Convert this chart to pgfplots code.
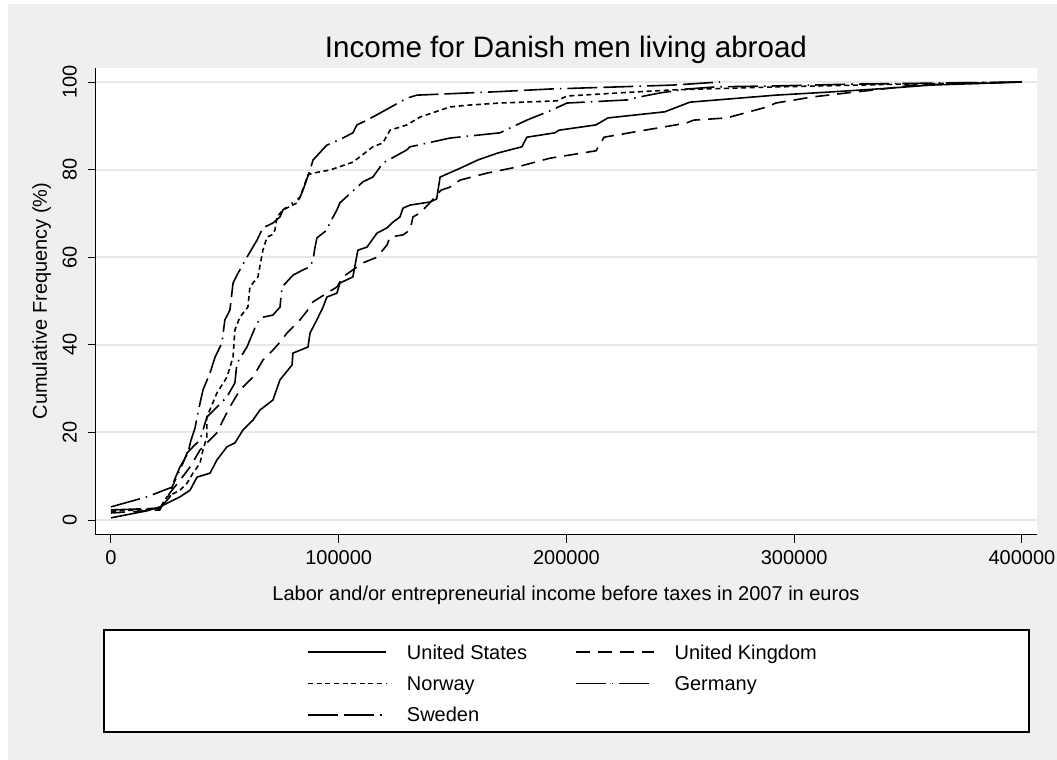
\documentclass[border=0pt]{standalone}
\usepackage{fontspec}
\setmainfont{Liberation Sans}
\usepackage{pgfplots}
\pgfplotsset{compat=1.18}
\definecolor{bg}{RGB}{239,239,239}
\definecolor{gridc}{RGB}{232,232,232}
\begin{document}
\begin{tikzpicture}[x=0.5pt,y=0.5pt]
\useasboundingbox (0,0) rectangle (1057,760);
\fill[white] (0,0) rectangle (1057,760);
\fill[bg] (8,0) rectangle (1057,756);
\draw[fill=white, line width=0.6pt] (104,28) rectangle (1029,130);
\node[anchor=base, font=\fontsize{14.8}{17}\selectfont] at (566,702) {Income for Danish men living abroad};
\node[anchor=base, font=\fontsize{10}{12}\selectfont] at (566,159) {Labor and/or entrepreneurial income before taxes in 2007 in euros};
\node[anchor=base, rotate=90, font=\fontsize{10}{12}\selectfont] at (47,459) {Cumulative Frequency (\%)};
\begin{axis}[
  at={(48pt,112.5pt)}, anchor=south west, scale only axis,
  width=470.5pt, height=233.5pt,
  xmin=-6586, xmax=406600, ymin=-3.42, ymax=103.2,
  scaled x ticks=false, scaled y ticks=false,
  axis lines*=left,
  axis line style={line width=0.5pt, black},
  axis background/.style={fill=white},
  tick align=outside, major tick length=4pt,
  tick style={black, line width=0.5pt},
  xtick={0,100000,200000,300000,400000},
  xticklabels={0,100000,200000,300000,400000},
  ytick={0,20,40,60,80,100},
  yticklabels={0,20,40,60,80,100},
  yticklabel style={rotate=90, anchor=south},
  yticklabel shift=2pt,
  ticklabel style={font=\fontsize{10}{12}\selectfont},
  ymajorgrids, grid style={gridc, line width=1pt},
  legend columns=2,
  legend cell align=left,
  legend style={draw=none, fill=none, at={(0.2242,-0.229)}, anchor=north west,
    inner sep=0pt, row sep=5.8pt, /tikz/column sep=10pt,
    font=\fontsize{10}{12}\selectfont, nodes={inner sep=0pt}},
  legend image code/.code={\draw[black, line width=0.8pt, #1] (0pt,0pt) -- (39pt,0pt);},
  every axis plot/.append style={black, line width=0.8pt, line join=round},
]
% United States
\addplot[solid] coordinates {
(0,0.5) (15800,2.1) (21500,3.0) (30300,5.3) (34700,6.8) (37800,9.8) (43500,10.7)
(46500,13.7) (50900,16.7) (54400,17.6) (57900,20.5) (62300,22.8) (65400,25.1)
(71100,27.4) (74200,32.0) (79500,35.4) (79900,38.1) (86500,39.5) (87400,42.7)
(90400,45.7) (93100,48.6) (94800,50.9) (99200,51.8) (100500,54.1) (106200,55.5)
(108400,61.6) (112400,62.3) (116800,65.5) (121200,66.7) (123800,68.0) (126900,69.2)
(128200,71.2) (131300,71.9) (140000,72.6) (143000,73.3) (144500,78.3) (153700,80.4)
(161100,82.2) (169900,83.8) (180400,85.2) (182600,87.4) (194900,88.4) (196700,89.0)
(212900,90.2) (218200,91.8) (243200,93.2) (254200,95.4) (291900,97.0) (315200,97.7)
(342000,98.6) (360000,99.3) (400000,100)
};
\addlegendentry{\makebox[74pt][l]{United States\strut}}
% United Kingdom
\addplot[dash pattern=on 7pt off 4pt] coordinates {
(0,1.6) (21500,2.3) (22800,3.9) (25900,6.2) (30300,9.1) (34700,12.1) (39100,16.0)
(42100,17.6) (46500,19.9) (49200,22.8) (52200,25.8) (56600,29.7) (62300,32.6)
(66700,36.5) (71100,38.8) (74200,40.6) (77300,42.7) (83000,45.7) (87400,48.6)
(88700,49.8) (94800,51.8) (99200,53.2) (101800,55.5) (110600,58.7) (116800,60.0)
(121200,62.8) (122500,64.6) (128200,65.1) (131300,66.2) (132600,69.2) (135700,70.1)
(140000,72.4) (144900,75.3) (148800,76.0) (153200,77.6) (165100,79.2) (178300,80.6)
(192700,82.6) (213000,84.3) (216500,87.4) (234400,89.0) (252400,90.6) (255900,91.3)
(270400,91.8) (288000,94.3) (291900,95.2) (308200,96.6) (323100,97.5) (342000,98.6)
(352000,99.3) (400000,100)
};
\addlegendentry{United Kingdom\strut}
% Norway
\addplot[dash pattern=on 2.5pt off 1.8pt] coordinates {
(0,2.0) (21500,2.6) (24600,5.3) (30300,6.8) (33400,8.4) (36000,10.7) (39100,13.0)
(40400,16.0) (42100,19.0) (42100,23.5) (46500,29.0) (50900,32.6) (53600,37.2)
(54400,43.4) (56600,46.3) (60100,48.6) (61000,53.2) (64500,55.5) (66700,61.6)
(68500,64.6) (70700,65.1) (72000,66.2) (72900,69.2) (75500,70.8) (81700,72.4)
(83000,73.7) (86500,78.8) (88700,79.2) (96100,79.9) (106200,81.7) (115000,85.2)
(119400,86.1) (122500,89.0) (129900,90.2) (135700,92.0) (148800,94.3) (156300,94.7)
(170800,95.2) (195800,95.7) (200200,96.8) (229200,97.7) (246700,98.2) (293700,98.9)
(346000,99.5) (400000,100)
};
\addlegendentry{\makebox[74pt][l]{Norway\strut}}
% Germany
\addplot[dash pattern=on 15pt off 3pt on 0.8pt off 3pt] coordinates {
(0,3.0) (15800,5.3) (26800,7.5) (31600,13.0) (33400,15.3) (36000,16.7) (39100,18.3)
(40400,20.5) (42100,23.5) (46500,25.8) (50900,28.1) (54400,31.3) (55300,35.8)
(59700,39.5) (64100,45.0) (66700,46.3) (71100,46.8) (74200,48.6) (75100,53.2)
(79900,55.9) (84300,57.1) (87400,57.8) (88700,59.4) (89600,62.3) (90400,64.4)
(94800,66.2) (96100,67.8) (99200,70.8) (100500,72.4) (110600,77.2) (115000,78.3)
(119400,81.5) (129900,84.5) (131300,85.2) (148800,87.2) (170800,88.4) (175200,89.5)
(182600,91.3) (192700,93.4) (200200,95.2) (226500,95.9) (232200,96.6) (241000,97.5)
(252900,98.4) (266000,98.9) (290600,99.1) (324000,99.5) (400000,100)
};
\addlegendentry{Germany\strut}
% Sweden
\addplot[dash pattern=on 15pt off 3pt on 15pt off 3pt on 0.8pt off 3pt] coordinates {
(0,2.3) (21500,2.7) (25900,5.3) (27200,8.4) (30300,12.1) (33800,15.3) (35000,18.0)
(36900,21.0) (37800,23.5) (39100,26.7) (40400,29.7) (43500,33.6) (45700,37.2)
(48700,40.4) (50000,45.7) (52200,47.9) (53600,54.1) (55300,55.9) (59700,60.0)
(64100,63.9) (66700,66.7) (71100,67.8) (74200,69.2) (75500,70.8) (83000,73.7)
(84300,75.3) (87400,79.9) (88700,82.2) (94800,85.6) (101800,87.2) (106200,88.4)
(108000,90.2) (112400,91.3) (118100,92.9) (129900,96.3) (134300,97.0) (170000,97.8)
(192700,98.4) (223500,98.9) (246700,99.3) (267400,100)
};
\addlegendentry{\makebox[74pt][l]{Sweden\strut}}
\end{axis}
\end{tikzpicture}
\end{document}
